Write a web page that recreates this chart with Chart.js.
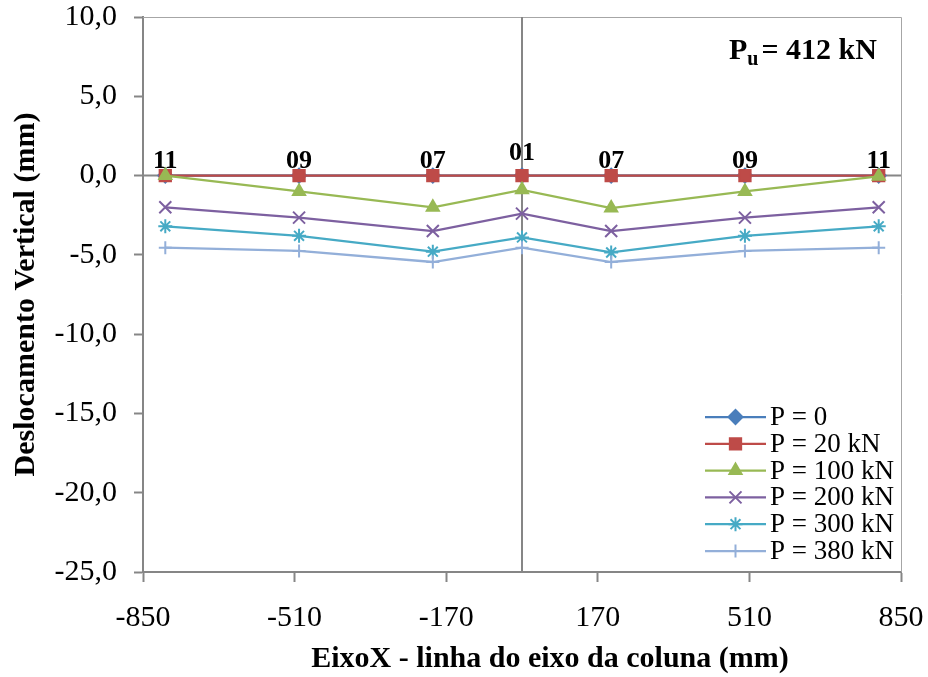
<!DOCTYPE html>
<html>
<head>
<meta charset="utf-8">
<script src="https://cdn.jsdelivr.net/npm/chart.js@4.4.1/dist/chart.umd.min.js"></script>
<style>
  html, body { margin: 0; padding: 0; background: #fff; }
  #wrap { width: 928px; height: 677px; }
</style>
</head>
<body>
<div id="wrap"><canvas id="deslocChart" width="928" height="677"></canvas></div>
<script>
// Posições dos pontos medidos ao longo do eixo X (mm)
const posicoesX = [-800, -500, -200, 0, 200, 500, 800];
// Identificação dos pontos (rótulos acima da linha zero)
const rotulosPontos = ["11", "09", "07", "01", "07", "09", "11"];

// Deslocamento vertical (mm) em cada etapa de carga
const desloc0   = [0, 0, 0, 0, 0, 0, 0];
const desloc20  = [0, 0, 0, 0, 0, 0, 0];
const desloc100 = [0, -1.0, -2.0, -0.9, -2.05, -1.0, -0.05];
const desloc200 = [-2.0, -2.65, -3.5, -2.4, -3.5, -2.65, -2.0];
const desloc300 = [-3.2, -3.8, -4.8, -3.9, -4.85, -3.8, -3.2];
const desloc380 = [-4.55, -4.75, -5.45, -4.55, -5.45, -4.75, -4.55];

const nomesSeries = ["P = 0", "P = 20 kN", "P = 100 kN", "P = 200 kN", "P = 300 kN", "P = 380 kN"];
const cargaUltima = "412 kN";
const tituloX = "EixoX - linha do eixo da coluna (mm)";
const tituloY = "Deslocamento Vertical (mm)";

// Eixos
const xMin = -850, xMax = 850, xPasso = 340;
const yMin = -25, yMax = 10, yPasso = 5;

const fonte = "'Liberation Serif', 'Times New Roman', serif";
const cinzaEixo = "#868686";

function pontos(valores) {
  return posicoesX.map((x, i) => ({ x: x, y: valores[i] }));
}

const estilos = [
  { cor: "#4A7EBB", marcador: "rectRot", raio: 7 },
  { cor: "#BE4B48", marcador: "rect", raio: 8 },
  { cor: "#98B954", marcador: "triangle", raio: 7 },
  { cor: "#7D60A0", marcador: "crossRot", raio: 8.5 },
  { cor: "#46AAC5", marcador: "star", raio: 7 },
  { cor: "#93AFD9", marcador: "cross", raio: 6.5 }
];

const series = [desloc0, desloc20, desloc100, desloc200, desloc300, desloc380];

const datasets = series.map((valores, i) => ({
  label: nomesSeries[i],
  data: pontos(valores),
  showLine: true,
  borderColor: estilos[i].cor,
  backgroundColor: estilos[i].cor,
  borderWidth: 2.25,
  pointStyle: estilos[i].marcador,
  pointRadius: estilos[i].raio,
  pointBorderWidth: 2,
  pointBorderColor: estilos[i].cor,
  pointBackgroundColor: estilos[i].cor,
  order: series.length - i // séries posteriores ficam por cima
}));

// Linhas de referência em x = 0 e y = 0, moldura superior/direita
const linhasZero = {
  id: "linhasZero",
  beforeDatasetsDraw(chart) {
    const { ctx, chartArea: a, scales: { x, y } } = chart;
    ctx.save();
    ctx.strokeStyle = "#A6A6A6";
    ctx.lineWidth = 1;
    ctx.beginPath();
    ctx.moveTo(a.left, a.top + 0.5);
    ctx.lineTo(a.right + 0.5, a.top + 0.5);
    ctx.lineTo(a.right + 0.5, a.bottom);
    ctx.stroke();

    ctx.strokeStyle = cinzaEixo;
    ctx.lineWidth = 2;
    const x0 = x.getPixelForValue(0);
    const y0 = y.getPixelForValue(0);
    ctx.beginPath();
    ctx.moveTo(x0, a.top);
    ctx.lineTo(x0, a.bottom);
    ctx.moveTo(a.left, y0);
    ctx.lineTo(a.right, y0);
    ctx.stroke();
    ctx.restore();
  }
};

// Rótulos dos pontos, título do eixo X, carga última e legenda
const anotacoes = {
  id: "anotacoes",
  afterDraw(chart) {
    const { ctx, scales: { x, y } } = chart;
    ctx.save();

    // números dos pontos
    ctx.fillStyle = "#000";
    ctx.font = "bold 26px " + fonte;
    ctx.textAlign = "center";
    ctx.textBaseline = "alphabetic";
    const y0 = y.getPixelForValue(0);
    rotulosPontos.forEach((txt, i) => {
      const px = x.getPixelForValue(posicoesX[i]);
      const subir = posicoesX[i] === 0 ? 16 : 8;
      ctx.fillText(txt, px, y0 - subir);
    });

    // título do eixo X (um pouco deslocado para a direita)
    ctx.font = "bold 30px " + fonte;
    ctx.textBaseline = "middle";
    ctx.fillText(tituloX, 550, 659);

    // P_u = 412 kN
    ctx.textAlign = "left";
    ctx.textBaseline = "alphabetic";
    let cx = 729;
    const base = 59;
    ctx.font = "bold 30px " + fonte;
    ctx.fillText("P", cx, base);
    cx += ctx.measureText("P").width;
    ctx.font = "bold 20px " + fonte;
    ctx.fillText("u", cx, base + 6);
    cx += ctx.measureText("u").width + 3;
    ctx.font = "bold 30px " + fonte;
    ctx.fillText("= " + cargaUltima, cx, base);

    // legenda
    const lx0 = 705, lx1 = 766, tx = 770;
    ctx.font = "27px " + fonte;
    ctx.textBaseline = "middle";
    chart.data.datasets.forEach((ds, i) => {
      const ly = 417 + i * 26.8;
      ctx.strokeStyle = ds.borderColor;
      ctx.lineWidth = 2.25;
      ctx.beginPath();
      ctx.moveTo(lx0, ly);
      ctx.lineTo(lx1, ly);
      ctx.stroke();
      ctx.fillStyle = ds.backgroundColor;
      ctx.lineWidth = 2;
      Chart.helpers.drawPoint(ctx, {
        pointStyle: ds.pointStyle,
        radius: ds.pointRadius,
        rotation: 0,
        borderWidth: 2
      }, (lx0 + lx1) / 2, ly);
      ctx.fillStyle = "#000";
      ctx.fillText(ds.label, tx, ly + 1);
    });
    ctx.restore();
  }
};

const ctx = document.getElementById("deslocChart");
new Chart(ctx.getContext("2d"), {
  type: "scatter",
  data: { datasets: datasets },
  options: {
    responsive: false,
    animation: false,
    layout: { padding: { top: 17, right: 27, left: 0, bottom: 0 } },
    plugins: {
      legend: { display: false },
      tooltip: { enabled: false }
    },
    scales: {
      x: {
        type: "linear",
        min: xMin,
        max: xMax,
        afterFit(scale) {
          scale.height = 105;
          scale.paddingLeft = 0;
          scale.paddingRight = 0;
        },
        ticks: {
          stepSize: xPasso,
          color: "#000",
          padding: 18,
          maxRotation: 0,
          font: { family: fonte, size: 30 },
          callback: v => String(v)
        },
        grid: {
          drawOnChartArea: false,
          drawTicks: true,
          tickLength: 10,
          tickColor: cinzaEixo,
          tickWidth: 2
        },
        border: { color: cinzaEixo, width: 2 }
      },
      y: {
        type: "linear",
        min: yMin,
        max: yMax,
        afterFit(scale) {
          scale.width = 143;
          scale.paddingTop = 0;
          scale.paddingBottom = 0;
        },
        ticks: {
          stepSize: yPasso,
          color: "#000",
          padding: 17,
          font: { family: fonte, size: 30 },
          callback: v => v.toFixed(1).replace(".", ",")
        },
        grid: {
          drawOnChartArea: false,
          drawTicks: true,
          tickLength: 9,
          tickColor: cinzaEixo,
          tickWidth: 2
        },
        border: { color: cinzaEixo, width: 2 },
        title: {
          display: true,
          text: tituloY,
          color: "#000",
          padding: { top: 8 },
          font: { family: fonte, size: 30, weight: "bold" }
        }
      }
    }
  },
  plugins: [linhasZero, anotacoes]
});
</script>
</body>
</html>
